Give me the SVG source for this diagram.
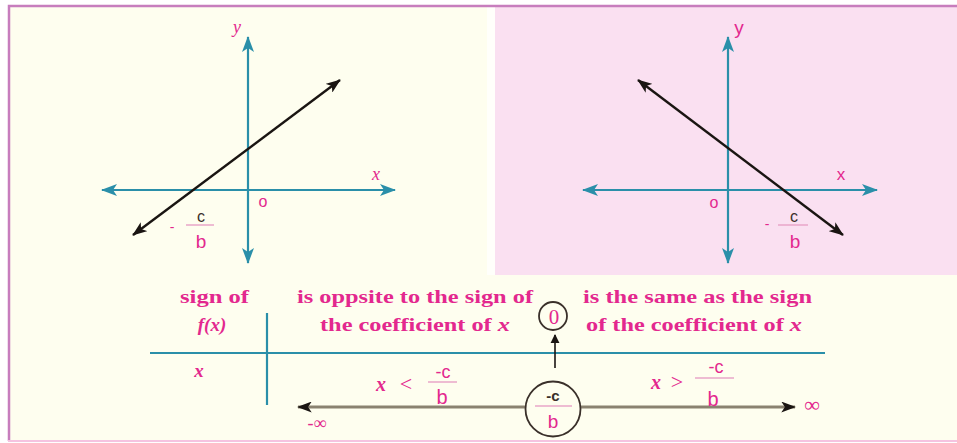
<svg xmlns="http://www.w3.org/2000/svg" width="957" height="443" viewBox="0 0 957 443">
<defs>
<style>
.ax{stroke:#2a8fa9;stroke-width:2.2;fill:none}
.ln{stroke:#1a1512;stroke-width:2.4;fill:none}
.pk{fill:#e3288e}
.dk{fill:#3a302a}
.sans{font-family:"Liberation Sans",Arial,sans-serif}
.ser{font-family:"Liberation Serif","Times New Roman",serif}
.bt{fill:#e3288e}
.it{font-family:"Liberation Serif","Times New Roman",serif;font-style:italic;fill:#e3288e}
.bar{stroke:#e9a6c8;stroke-width:1.5}
</style>
<marker id="ta" viewBox="0 0 16 12" markerWidth="16" markerHeight="12" refX="15" refY="6" orient="auto-start-reverse" markerUnits="userSpaceOnUse">
<path d="M0,0 L16,6 L0,12 L4,6 z" fill="#2a8fa9"/>
</marker>
<marker id="ba" viewBox="0 0 16 12" markerWidth="15" markerHeight="11" refX="15" refY="6" orient="auto-start-reverse" markerUnits="userSpaceOnUse">
<path d="M0,0 L16,6 L0,12 L4,6 z" fill="#1a1512"/>
</marker>
<marker id="sa" viewBox="0 0 10 10" markerWidth="9" markerHeight="10" refX="9" refY="5" orient="auto" markerUnits="userSpaceOnUse">
<path d="M0,0 L10,5 L0,10 z" fill="#1a1512"/>
</marker>
</defs>
<rect width="957" height="443" fill="#ffffff"/>
<rect x="8" y="5" width="960" height="436" fill="#fefeef"/>
<rect x="487" y="7" width="8" height="268" fill="#fffffb"/>
<rect x="495" y="7" width="470" height="268" fill="#fae0f1"/>
<path d="M9,441 V6 H957" fill="none" stroke="#c77dbd" stroke-width="2.5"/>
<path d="M8,441 H957" fill="none" stroke="#f5c3e0" stroke-width="2"/>

<g id="graph-left">
<line class="ax" x1="248" y1="190" x2="248" y2="37" marker-end="url(#ta)"/>
<line class="ax" x1="248" y1="190" x2="248" y2="263" marker-end="url(#ta)"/>
<line class="ax" x1="102" y1="190" x2="395" y2="190" marker-start="url(#ta)" marker-end="url(#ta)"/>
<line class="ln" x1="133" y1="235" x2="340" y2="80" marker-start="url(#ba)" marker-end="url(#ba)"/>
<text class="it" x="237" y="33" font-size="18" text-anchor="middle">y</text>
<text class="it" x="376" y="180" font-size="18" text-anchor="middle">x</text>
<text class="sans pk" x="263" y="207" font-size="16" text-anchor="middle">o</text>
<text class="sans pk" x="172" y="232" font-size="14" text-anchor="middle">-</text>
<text class="sans dk" x="201" y="222" font-size="16" text-anchor="middle">c</text>
<line class="bar" x1="186" y1="225" x2="214" y2="225"/>
<text class="sans pk" x="201" y="248" font-size="19" text-anchor="middle">b</text>
</g>

<g id="graph-right">
<line class="ax" x1="728" y1="190" x2="728" y2="37" marker-end="url(#ta)"/>
<line class="ax" x1="728" y1="190" x2="728" y2="263" marker-end="url(#ta)"/>
<line class="ax" x1="583" y1="190" x2="877" y2="190" marker-start="url(#ta)" marker-end="url(#ta)"/>
<line class="ln" x1="638" y1="80" x2="843" y2="235" marker-start="url(#ba)" marker-end="url(#ba)"/>
<text class="sans pk" x="739" y="34" font-size="19" text-anchor="middle">y</text>
<text class="sans pk" x="841" y="180" font-size="17" text-anchor="middle">x</text>
<text class="sans pk" x="714" y="208" font-size="16" text-anchor="middle">o</text>
<text class="sans pk" x="767" y="229" font-size="14" text-anchor="middle">-</text>
<text class="sans dk" x="794" y="222" font-size="16" text-anchor="middle">c</text>
<line class="bar" x1="778" y1="225" x2="808" y2="225"/>
<text class="sans pk" x="795" y="248" font-size="19" text-anchor="middle">b</text>
</g>

<g id="table" font-family="'Liberation Serif','Times New Roman',serif" font-weight="bold" font-size="19">
<line class="ax" x1="150" y1="353" x2="825" y2="353" stroke-width="3"/>
<line class="ax" x1="267" y1="313" x2="267" y2="405" stroke-width="3"/>
<text class="bt" x="180" y="303" textLength="69" lengthAdjust="spacingAndGlyphs">sign of</text>
<text class="bt" x="212" y="331" font-style="italic" text-anchor="middle">f(x)</text>
<text class="bt" x="199" y="377" font-style="italic" text-anchor="middle">x</text>
<text class="bt" x="297" y="303" textLength="236" lengthAdjust="spacingAndGlyphs">is oppsite to the sign of</text>
<text class="bt" x="320" y="331" textLength="190" lengthAdjust="spacingAndGlyphs">the coefficient of <tspan font-style="italic">x</tspan></text>
<text class="bt" x="583" y="303" textLength="229" lengthAdjust="spacingAndGlyphs">is the same as the sign</text>
<text class="bt" x="586" y="331" textLength="216" lengthAdjust="spacingAndGlyphs">of the coefficient of <tspan font-style="italic">x</tspan></text>
</g>

<g id="zero-node">
<circle cx="553" cy="316" r="14" fill="#fefeef" stroke="#3a302a" stroke-width="1.8"/>
<text class="ser pk" x="554" y="324" font-size="21" text-anchor="middle">0</text>
</g>

<g id="connectors">
<line x1="555" y1="368" x2="555" y2="335" stroke="#1a1512" stroke-width="1.6" marker-end="url(#sa)"/>
<line x1="298" y1="407" x2="795" y2="407" stroke="#8a8270" stroke-width="3" marker-start="url(#ba)" marker-end="url(#ba)"/>
</g>

<g id="root-node">
<circle cx="553" cy="409" r="27.5" fill="#fefeef" stroke="#3a302a" stroke-width="1.8"/>
<text class="sans dk" x="553" y="401" font-size="15" text-anchor="middle" font-weight="bold">-c</text>
<line class="bar" x1="535" y1="406" x2="572" y2="406"/>
<text class="sans pk" x="553" y="428" font-size="19" text-anchor="middle">b</text>
</g>

<g id="interval-left">
<text class="it" x="381" y="391" font-size="20" text-anchor="middle" font-weight="bold">x</text>
<text class="ser pk" x="406" y="391" font-size="22" text-anchor="middle">&lt;</text>
<text class="sans pk" x="443" y="378" font-size="18" text-anchor="middle">-c</text>
<line class="bar" x1="428" y1="382" x2="457" y2="382"/>
<text class="sans pk" x="442" y="404" font-size="20" text-anchor="middle">b</text>
<text class="ser pk" x="317" y="429" font-size="18" text-anchor="middle">-∞</text>
</g>

<g id="interval-right">
<text class="it" x="656" y="389" font-size="20" text-anchor="middle" font-weight="bold">x</text>
<text class="ser pk" x="677" y="389" font-size="22" text-anchor="middle">&gt;</text>
<text class="sans pk" x="716" y="373" font-size="18" text-anchor="middle">-c</text>
<line class="bar" x1="695" y1="378" x2="734" y2="378"/>
<text class="sans pk" x="713" y="406" font-size="20" text-anchor="middle">b</text>
<text class="ser pk" x="812" y="412" font-size="22" text-anchor="middle">∞</text>
</g>
</svg>
